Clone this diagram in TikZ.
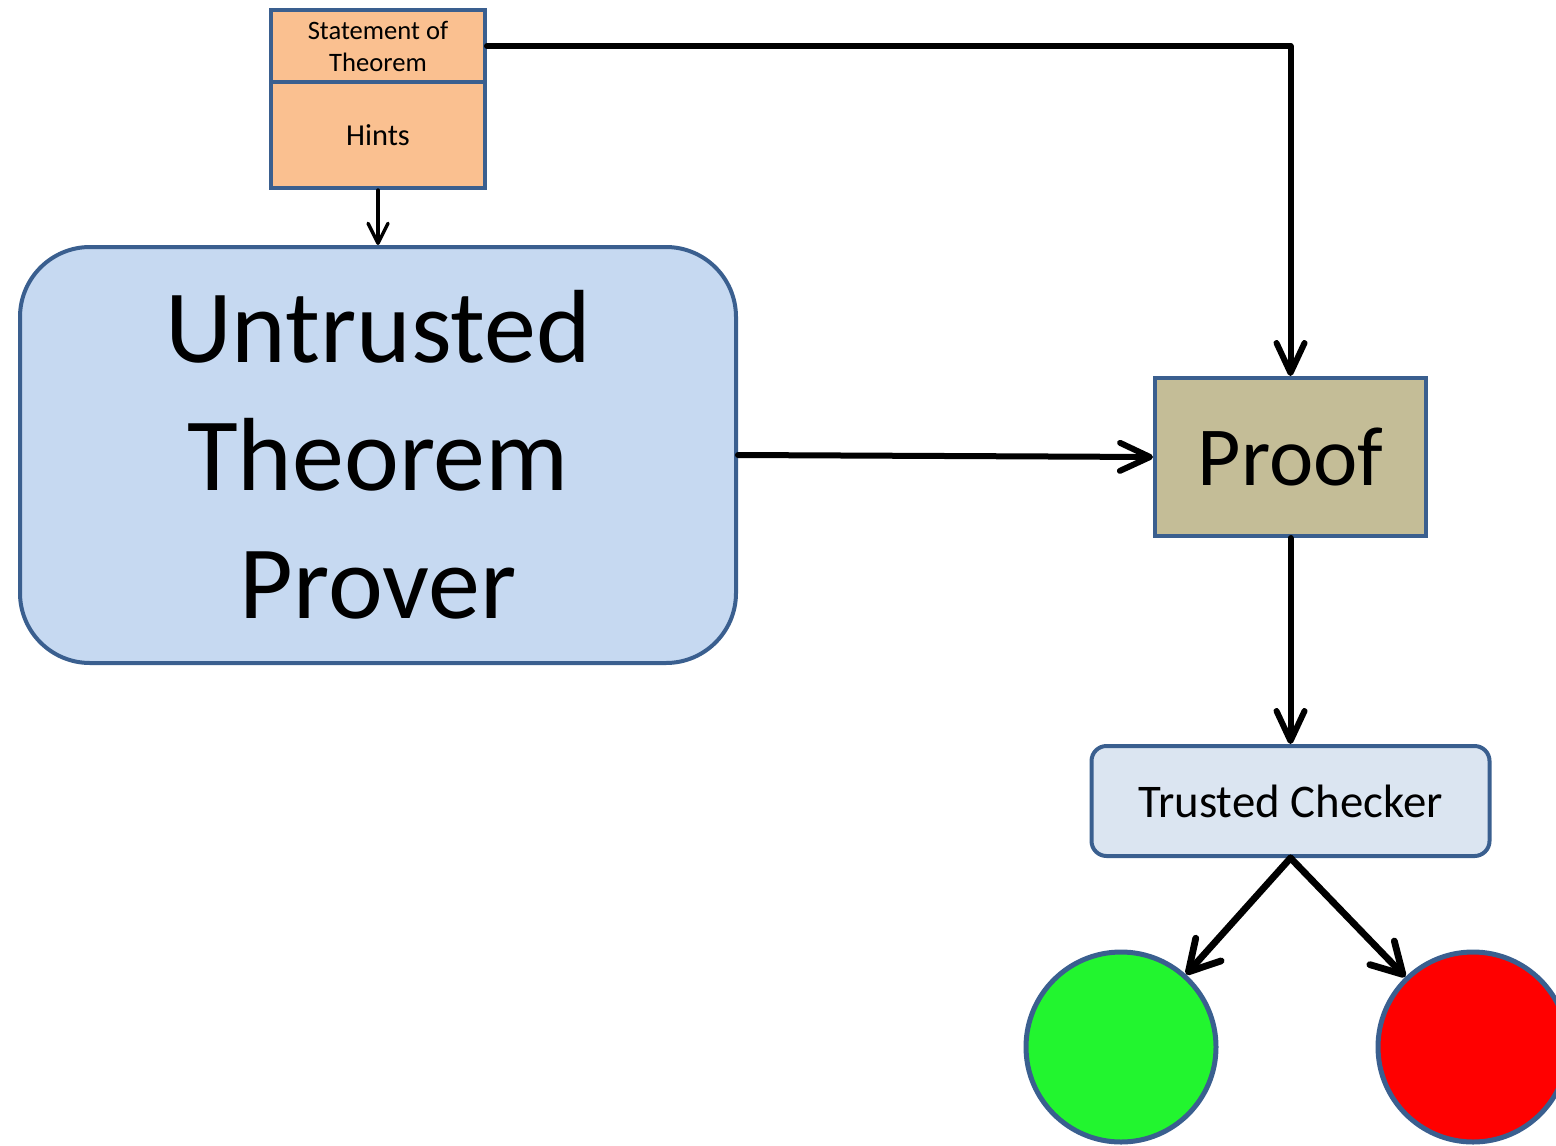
\documentclass[tikz,border=0pt]{standalone}
\usepackage{fontspec}
\setmainfont{Carlito}
\usetikzlibrary{arrows.meta}
\definecolor{edgeblue}{HTML}{3A5F8F}
\definecolor{stmtfill}{HTML}{FAC090}
\definecolor{proverfill}{HTML}{C6D9F1}
\definecolor{prooffill}{HTML}{C4BD97}
\definecolor{checkfill}{HTML}{DBE5F1}
\definecolor{okgreen}{HTML}{22F52F}
\definecolor{badred}{HTML}{FF0000}
\tikzset{
  box/.style={draw=edgeblue, line width=2pt, inner sep=0pt, align=center},
  flow/.style={draw=black, line width=3pt, line cap=round, line join=round,
    -{Straight Barb[length=15pt, width=14pt, line cap=round, line join=round]}},
  bigflow/.style={draw=black, line width=3.4pt, line cap=round, line join=round,
    -{Straight Barb[length=15pt, width=17pt, line cap=round, line join=round]}},
  thinflow/.style={draw=black, line width=1.7pt, line cap=round,
    -{Straight Barb[length=10pt, width=10pt, line cap=round, line join=round]}},
  verdict/.style={circle, draw=edgeblue, line width=2.5pt, minimum size=95pt, inner sep=0pt},
}
\begin{document}
\begin{tikzpicture}[x=0.5pt, y=-0.5pt]
  \useasboundingbox (0,0) rectangle (1556,1145);
  \clip (0,0) rectangle (1556,1145);

  % input: statement and hints
  \node[box, fill=stmtfill, minimum width=107pt, minimum height=36pt,
        font=\fontsize{13.3}{16}\selectfont] (stmt) at (378,46) {Statement of\\Theorem};
  \node[box, fill=stmtfill, minimum width=107pt, minimum height=53pt,
        font=\fontsize{15.2}{18}\selectfont] (hints) at (378,135) {Hints};

  % prover
  \node[box, fill=proverfill, rounded corners=35pt, minimum width=358pt, minimum height=208pt,
        font=\fontsize{52}{64}\selectfont] (prover) at (378,455) {Untrusted\\Theorem\\Prover};

  % proof object
  \node[box, fill=prooffill, minimum width=135.5pt, minimum height=79pt,
        font=\fontsize{42}{50}\selectfont] (proof) at (1290.5,457) {Proof};

  % checker
  \node[box, fill=checkfill, rounded corners=7.5pt, minimum width=199pt, minimum height=55pt,
        font=\fontsize{23.4}{28}\selectfont] (checker) at (1290.5,801) {Trusted Checker};

  % outcomes
  \node[verdict, fill=okgreen] (accept) at (1121,1047) {};
  \node[verdict, fill=badred] (reject) at (1473,1047) {};

  % connectors
  \draw[thinflow] (hints.south) -- (prover.north);
  \draw[flow] (stmt.east) -| (proof.north);
  \draw[flow] (prover.east) -- (proof.west);
  \draw[flow] (proof.south) -- (checker.north);
  \draw[bigflow] (checker.south) -- (accept);
  \draw[bigflow] (checker.south) -- (reject);
\end{tikzpicture}
\end{document}
